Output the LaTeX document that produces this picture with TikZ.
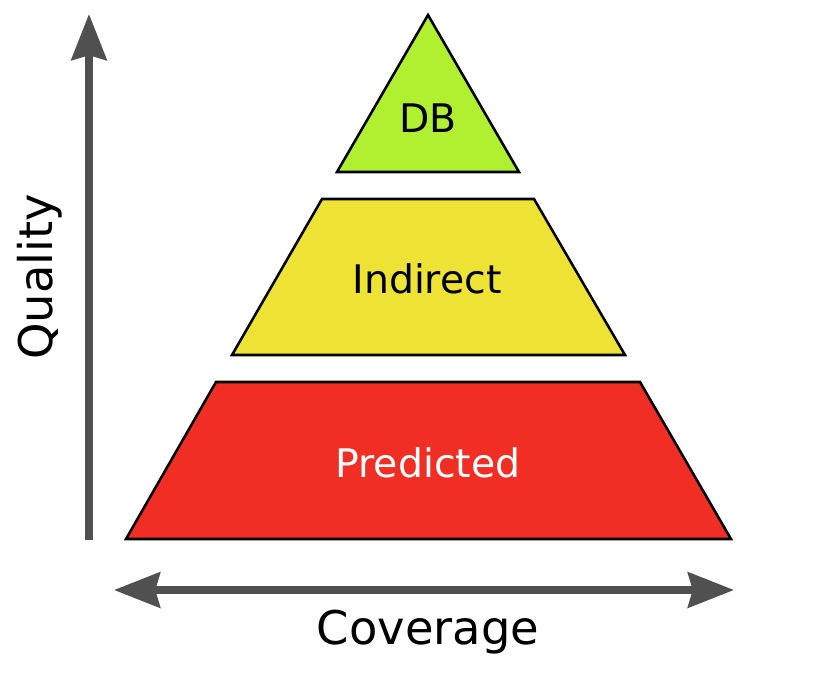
\documentclass[tikz,border=0pt]{standalone}
\usepackage{fontspec}
\setmainfont{DejaVu Sans}
\usepackage{tikz}
\usetikzlibrary{arrows.meta}
\usetikzlibrary{positioning}
\definecolor{dbgreen}{RGB}{176,240,48}
\definecolor{indyellow}{RGB}{238,226,52}
\definecolor{predred}{RGB}{240,46,36}
\definecolor{axisgray}{RGB}{80,80,80}

\begin{document}
\begin{tikzpicture}[x=0.025cm,y=-0.025cm]
  \tikzset{level/.style = {draw=black, line width=1.8pt, line join=miter}}
  \tikzset{axis/.style = {draw=axisgray, line width=5pt}}
  \tikzset{tipA/.tip={Stealth[length=1.15cm, width=0.88cm, inset=0.12cm]}}
  \tikzset{inlabel/.style = {font=\fontsize{28}{34}\selectfont, inner sep=0pt}}
  \tikzset{axlabel/.style = {font=\fontsize{33}{40}\selectfont, inner sep=0pt}}

  \useasboundingbox (0,0) rectangle (835,676);

	\filldraw[level, fill=dbgreen] (428,15) -- (519,172) -- (337,172) -- cycle;
	\filldraw[level, fill=indyellow] (322,199) -- (534,199) -- (625,355) -- (232,355) -- cycle;
	\filldraw[level, fill=predred] (216,382) -- (640,382) -- (731,539) -- (126,539) -- cycle;

	\node[inlabel] (DB) at (428,118) {DB};
	\node[inlabel] (Ind) at (427,279) {Indirect};
	\node[inlabel, text=white] (Pred) at (428,463) {Predicted};

	\coordinate (qlow) at (89,540);
	\coordinate (qhigh) at (89,14);
	\coordinate (cleft) at (114,590);
	\coordinate (cright) at (734,590);

	\path[axis, -tipA, fill=axisgray] (qlow) -- (qhigh);
	\path[axis, tipA-tipA, fill=axisgray] (cleft) -- (cright);

	\node[axlabel, rotate=90] (Q) at (40,277) {Quality};
	\node[axlabel] (Cov) at (428,632) {Coverage};
\end{tikzpicture}
\end{document}
